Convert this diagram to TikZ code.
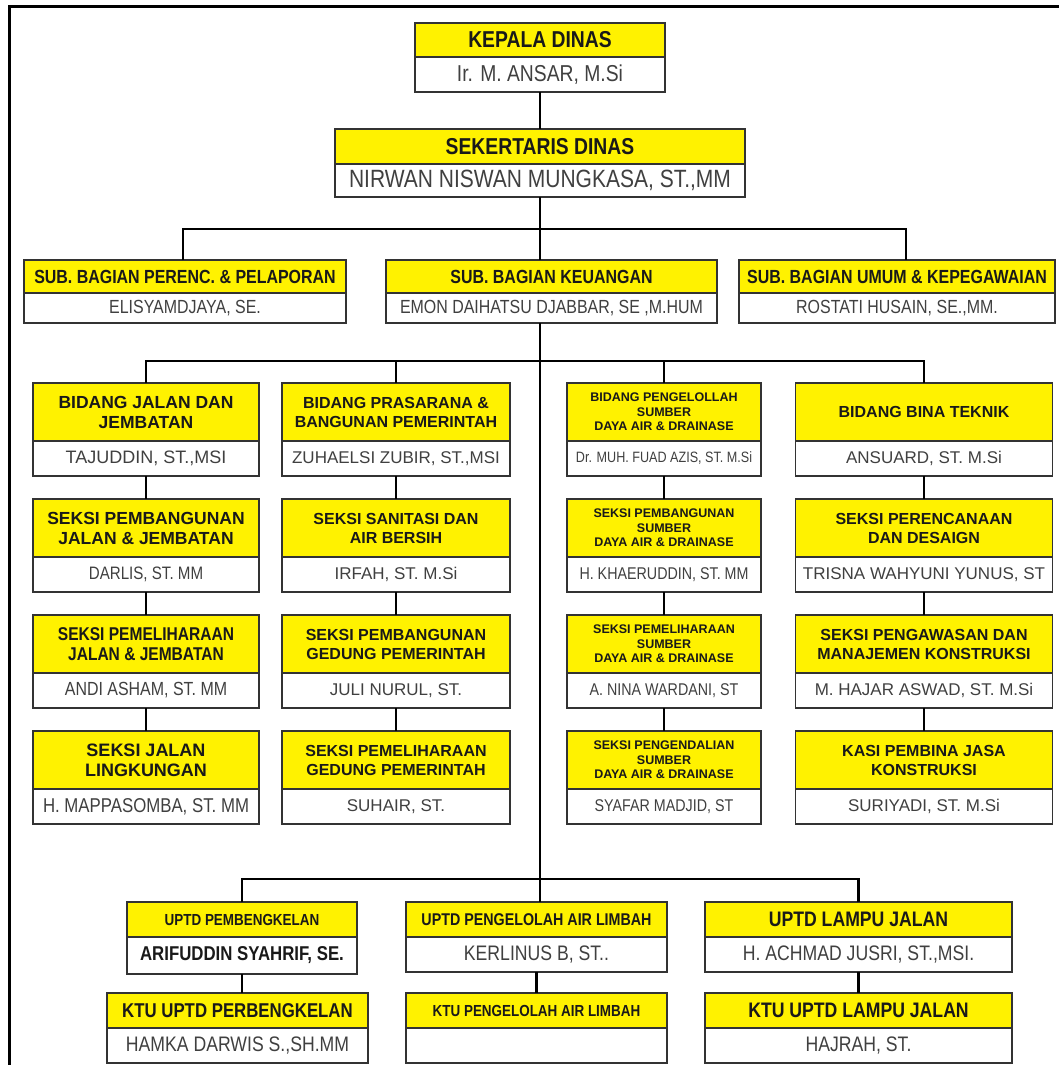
\documentclass[tikz,border=0pt]{standalone}
\usepackage{fontspec}
\setmainfont{Liberation Sans}
\newfontfamily\cond[FakeStretch=0.84]{Liberation Sans}
\usetikzlibrary{positioning}

\begin{document}
\begin{tikzpicture}[
    x=1pt, y=-1pt,
    cellbox/.style={draw=black!80, line width=1.8pt, outer sep=0pt, inner sep=1pt, align=center},
    headbox/.style={cellbox, fill=yellow, text=black!90, anchor=north},
    namebox/.style={cellbox, fill=white, text=black!75},
    gridhead/.style={headbox, minimum height=58, font=\bfseries\fontsize{16}{19}\selectfont},
    gridname/.style={namebox, minimum height=35, font=\fontsize{17}{20}\selectfont},
    smallhead/.style={gridhead, font=\bfseries\fontsize{12.5}{14.5}\selectfont},
    colA/.style={minimum width=226},
    colB/.style={minimum width=228},
    colC/.style={minimum width=194},
    colD/.style={minimum width=257},
    conn/.style={line width=2.6pt, black}
]
\useasboundingbox (0,0) rectangle (1059,1065);

% Frame
\draw[line width=3pt] (1059,7) -| (9,1065);

% Pimpinan
\node[headbox, minimum width=250, minimum height=34, font=\cond\bfseries\fontsize{23}{26}\selectfont] (kepala) at (540,23) {KEPALA DINAS};
\node[namebox, minimum width=250, minimum height=35, below=0pt of kepala, font=\cond\fontsize{23}{26}\selectfont] (kepala_nm) {Ir. M. ANSAR, M.Si};
\node[headbox, minimum width=410, minimum height=35, font=\cond\bfseries\fontsize{23}{26}\selectfont] (sekretaris) at (540,129) {SEKERTARIS DINAS};
\node[namebox, minimum width=410, minimum height=33, below=0pt of sekretaris, font=\cond\fontsize{25}{28}\selectfont] (sekretaris_nm) {NIRWAN NISWAN MUNGKASA, ST.,MM};

% Sub bagian
\node[headbox, minimum width=322, minimum height=33, font=\cond\bfseries\fontsize{19}{22}\selectfont] (perenc) at (185,260) {SUB. BAGIAN PERENC. \& PELAPORAN};
\node[namebox, minimum width=322, minimum height=30, below=0pt of perenc, font=\cond\fontsize{19}{22}\selectfont] (perenc_nm) {ELISYAMDJAYA, SE.};
\node[headbox, minimum width=331, minimum height=33, font=\cond\bfseries\fontsize{19}{22}\selectfont] (keuangan) at (551.5,260) {SUB. BAGIAN KEUANGAN};
\node[namebox, minimum width=331, minimum height=30, below=0pt of keuangan, font=\cond\fontsize{19}{22}\selectfont] (keuangan_nm) {EMON DAIHATSU DJABBAR, SE ,M.HUM};
\node[headbox, minimum width=316, minimum height=33, font=\cond\bfseries\fontsize{19}{22}\selectfont] (umum) at (897,260) {SUB. BAGIAN UMUM \& KEPEGAWAIAN};
\node[namebox, minimum width=316, minimum height=30, below=0pt of umum, font=\cond\fontsize{19}{22}\selectfont] (umum_nm) {ROSTATI HUSAIN, SE.,MM.};

% Bidang jalan dan jembatan
\node[gridhead, colA, font=\bfseries\fontsize{17.5}{20}\selectfont] (bid_jalan) at (146,383) {BIDANG JALAN DAN\\JEMBATAN};
\node[gridname, colA, below=0pt of bid_jalan, font=\fontsize{18}{20}\selectfont] (bid_jalan_nm) {TAJUDDIN, ST.,MSI};
\node[gridhead, colA, font=\bfseries\fontsize{17.5}{20}\selectfont] (pemb_jalan) at (146,499) {SEKSI PEMBANGUNAN\\JALAN \& JEMBATAN};
\node[gridname, colA, below=0pt of pemb_jalan, font=\cond\fontsize{18}{20}\selectfont] (pemb_jalan_nm) {DARLIS, ST. MM};
\node[gridhead, colA, font=\cond\bfseries\fontsize{18.5}{20}\selectfont] (pel_jalan) at (146,615) {SEKSI PEMELIHARAAN\\JALAN \& JEMBATAN};
\node[gridname, colA, below=0pt of pel_jalan, font=\cond\fontsize{19}{20}\selectfont] (pel_jalan_nm) {ANDI ASHAM, ST. MM};
\node[gridhead, colA, font=\bfseries\fontsize{18}{20}\selectfont] (jalan_ling) at (146,731) {SEKSI JALAN\\LINGKUNGAN};
\node[gridname, colA, below=0pt of jalan_ling, font=\cond\fontsize{20}{20}\selectfont] (jalan_ling_nm) {H. MAPPASOMBA, ST. MM};

% Bidang prasarana
\node[gridhead, colB] (bid_prasarana) at (396,383) {BIDANG PRASARANA \&\\BANGUNAN PEMERINTAH};
\node[gridname, colB, below=0pt of bid_prasarana] (bid_prasarana_nm) {ZUHAELSI ZUBIR, ST.,MSI};
\node[gridhead, colB] (sanitasi) at (396,499) {SEKSI SANITASI DAN\\AIR BERSIH};
\node[gridname, colB, below=0pt of sanitasi] (sanitasi_nm) {IRFAH, ST. M.Si};
\node[gridhead, colB] (pemb_gedung) at (396,615) {SEKSI PEMBANGUNAN\\GEDUNG PEMERINTAH};
\node[gridname, colB, below=0pt of pemb_gedung] (pemb_gedung_nm) {JULI NURUL, ST.};
\node[gridhead, colB] (pel_gedung) at (396,731) {SEKSI PEMELIHARAAN\\GEDUNG PEMERINTAH};
\node[gridname, colB, below=0pt of pel_gedung] (pel_gedung_nm) {SUHAIR, ST.};

% Bidang sumber daya air
\node[smallhead, colC] (bid_air) at (664,383) {BIDANG PENGELOLLAH\\SUMBER\\DAYA AIR \& DRAINASE};
\node[gridname, colC, below=0pt of bid_air, font=\cond\fontsize{15}{18}\selectfont] (bid_air_nm) {Dr. MUH. FUAD AZIS, ST. M.Si};
\node[smallhead, colC] (pemb_air) at (664,499) {SEKSI PEMBANGUNAN\\SUMBER\\DAYA AIR \& DRAINASE};
\node[gridname, colC, below=0pt of pemb_air, font=\cond\fontsize{17}{20}\selectfont] (pemb_air_nm) {H. KHAERUDDIN, ST. MM};
\node[smallhead, colC] (pel_air) at (664,615) {SEKSI PEMELIHARAAN\\SUMBER\\DAYA AIR \& DRAINASE};
\node[gridname, colC, below=0pt of pel_air, font=\cond\fontsize{17}{20}\selectfont] (pel_air_nm) {A. NINA WARDANI, ST};
\node[smallhead, colC] (kend_air) at (664,731) {SEKSI PENGENDALIAN\\SUMBER\\DAYA AIR \& DRAINASE};
\node[gridname, colC, below=0pt of kend_air, font=\cond\fontsize{17}{20}\selectfont] (kend_air_nm) {SYAFAR MADJID, ST};

% Bidang bina teknik
\node[gridhead, colD] (bid_bina) at (924,383) {BIDANG BINA TEKNIK};
\node[gridname, colD, below=0pt of bid_bina] (bid_bina_nm) {ANSUARD, ST. M.Si};
\node[gridhead, colD] (perencanaan) at (924,499) {SEKSI PERENCANAAN\\DAN DESAIGN};
\node[gridname, colD, below=0pt of perencanaan] (perencanaan_nm) {TRISNA WAHYUNI YUNUS, ST};
\node[gridhead, colD] (pengawasan) at (924,615) {SEKSI PENGAWASAN DAN\\MANAJEMEN KONSTRUKSI};
\node[gridname, colD, below=0pt of pengawasan] (pengawasan_nm) {M. HAJAR ASWAD, ST. M.Si};
\node[gridhead, colD] (jasa) at (924,731) {KASI PEMBINA JASA\\KONSTRUKSI};
\node[gridname, colD, below=0pt of jasa] (jasa_nm) {SURIYADI, ST. M.Si};

% UPTD
\node[headbox, minimum width=230, minimum height=35, font=\cond\bfseries\fontsize{16}{19}\selectfont] (uptd_bengkel) at (242,902) {UPTD PEMBENGKELAN};
\node[namebox, minimum width=230, minimum height=37, below=0pt of uptd_bengkel, text=black!90, font=\cond\bfseries\fontsize{20}{23}\selectfont] (uptd_bengkel_nm) {ARIFUDDIN SYAHRIF, SE.};
\node[headbox, minimum width=261, minimum height=35, font=\cond\bfseries\fontsize{20}{23}\selectfont] (ktu_bengkel) at (237.5,993) {KTU UPTD PERBENGKELAN};
\node[namebox, minimum width=261, minimum height=35, below=0pt of ktu_bengkel, font=\cond\fontsize{21}{24}\selectfont] (ktu_bengkel_nm) {HAMKA DARWIS S.,SH.MM};

\node[headbox, minimum width=261, minimum height=35, font=\cond\bfseries\fontsize{17}{20}\selectfont] (uptd_limbah) at (536.5,902) {UPTD PENGELOLAH AIR LIMBAH};
\node[namebox, minimum width=261, minimum height=35, below=0pt of uptd_limbah, font=\cond\fontsize{21}{24}\selectfont] (uptd_limbah_nm) {KERLINUS B, ST..};
\node[headbox, minimum width=261, minimum height=35, font=\cond\bfseries\fontsize{16}{19}\selectfont] (ktu_limbah) at (536.5,993) {KTU PENGELOLAH AIR LIMBAH};
\node[namebox, minimum width=261, minimum height=35, below=0pt of ktu_limbah] (ktu_limbah_nm) {};

\node[headbox, minimum width=307, minimum height=35, font=\cond\bfseries\fontsize{21}{24}\selectfont] (uptd_lampu) at (858.5,902) {UPTD LAMPU JALAN};
\node[namebox, minimum width=307, minimum height=35, below=0pt of uptd_lampu, font=\cond\fontsize{21}{24}\selectfont] (uptd_lampu_nm) {H. ACHMAD JUSRI, ST.,MSI.};
\node[headbox, minimum width=307, minimum height=35, font=\cond\bfseries\fontsize{21}{24}\selectfont] (ktu_lampu) at (858.5,993) {KTU UPTD LAMPU JALAN};
\node[namebox, minimum width=307, minimum height=35, below=0pt of ktu_lampu, font=\cond\fontsize{21}{24}\selectfont] (ktu_lampu_nm) {HAJRAH, ST.};

% Bars
\coordinate (bar_sub) at (540,229);
\coordinate (bar_bidang) at (540,361);
\coordinate (bar_uptd) at (540,879);

% Links
\draw[conn] (kepala_nm) -- (sekretaris);
\draw[conn] (sekretaris_nm.south -| bar_sub) -- (bar_sub);
\draw[conn] ([xshift=-2]perenc.north) |- (bar_sub) -| ([xshift=9]umum.north);
\draw[conn] (bar_sub) -- (keuangan.north -| bar_sub);
\draw[conn] (keuangan_nm.south -| bar_sub) -- (bar_uptd);

\draw[conn] (bid_jalan.north) |- (bar_bidang) -| (bid_bina.north);
\draw[conn] (bid_prasarana.north) -- (bid_prasarana.north |- bar_bidang);
\draw[conn] (bid_air.north) -- (bid_air.north |- bar_bidang);

\draw[conn] (bid_jalan_nm) -- (pemb_jalan);
\draw[conn] (pemb_jalan_nm) -- (pel_jalan);
\draw[conn] (pel_jalan_nm) -- (jalan_ling);
\draw[conn] (bid_prasarana_nm) -- (sanitasi);
\draw[conn] (sanitasi_nm) -- (pemb_gedung);
\draw[conn] (pemb_gedung_nm) -- (pel_gedung);
\draw[conn] (bid_air_nm) -- (pemb_air);
\draw[conn] (pemb_air_nm) -- (pel_air);
\draw[conn] (pel_air_nm) -- (kend_air);
\draw[conn] (bid_bina_nm) -- (perencanaan);
\draw[conn] (perencanaan_nm) -- (pengawasan);
\draw[conn] (pengawasan_nm) -- (jasa);

\draw[conn] (uptd_bengkel.north) |- (bar_uptd) -| (uptd_lampu.north);
\draw[conn] (bar_uptd) -- (uptd_limbah.north -| bar_uptd);
\draw[conn] (uptd_bengkel_nm.south) -- (ktu_bengkel.north -| uptd_bengkel_nm.south);
\draw[conn] (uptd_limbah_nm) -- (ktu_limbah);
\draw[conn] (uptd_lampu_nm) -- (ktu_lampu);

\end{tikzpicture}
\end{document}
